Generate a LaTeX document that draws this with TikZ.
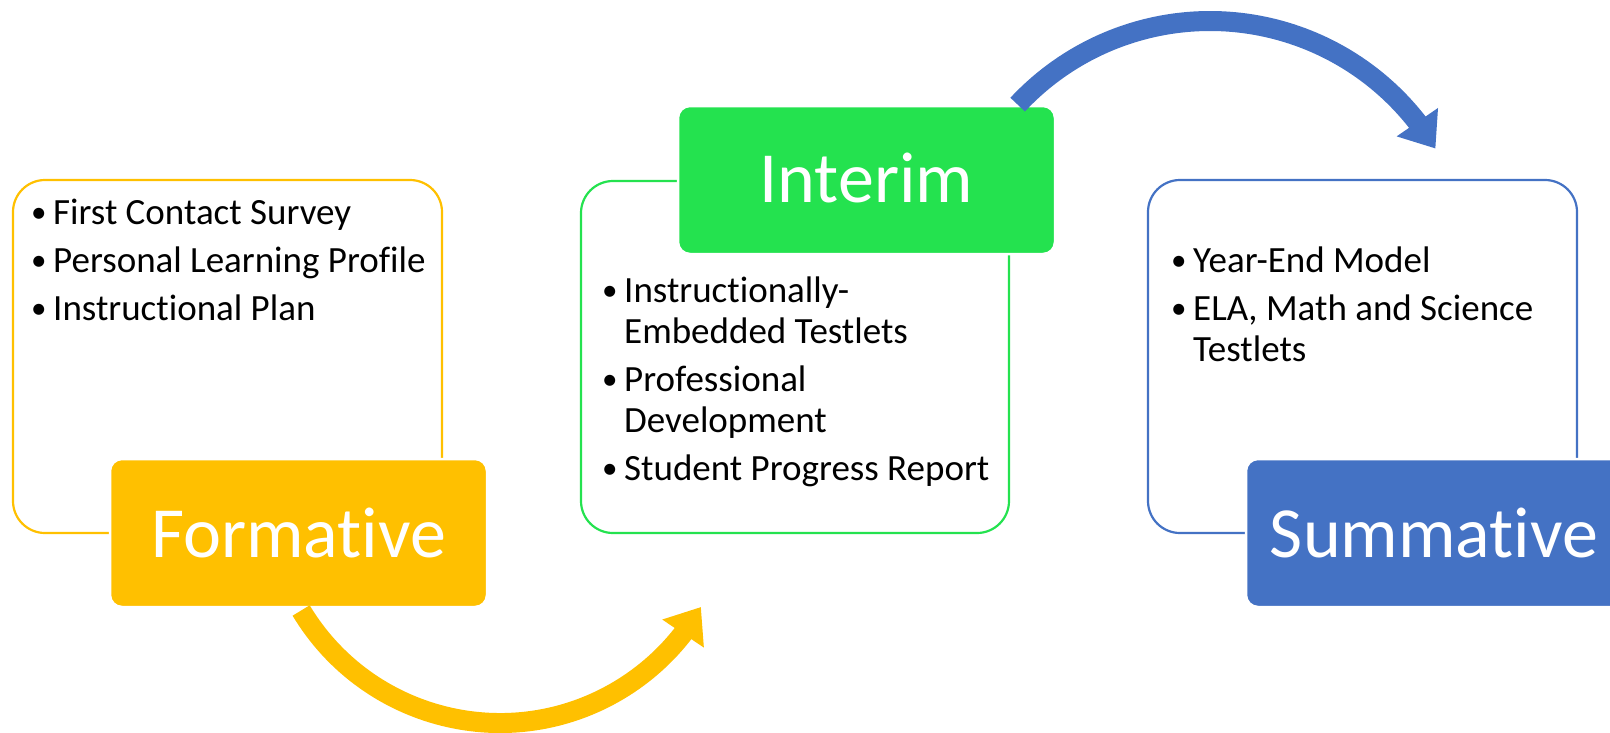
\documentclass[tikz,border=0pt]{standalone}
\usepackage{fontspec}
\setmainfont{Carlito}[RawFeature={-liga,-clig,-dlig,-calt}]
\usetikzlibrary{arrows.meta,bending,calc}
\definecolor{fyellow}{HTML}{FFC000}
\definecolor{igreen}{HTML}{24E24F}
\definecolor{sblue}{HTML}{4472C4}
\newcommand{\bul}{\makebox[21pt][l]{\hspace{-1pt}\raisebox{1.5pt}{\fontsize{31}{31}\selectfont •}}}
\newcommand{\cont}{\hspace*{21pt}}
\newcommand{\fstrut}{\rule{0pt}{30pt}}
\begin{document}
\begin{tikzpicture}[x=1pt,y=1pt,
  outline/.style={draw=#1, line width=2.2pt, rounded corners=32pt, fill=white,
    inner sep=0pt, outer sep=0pt, anchor=north west},
  labelbox/.style={fill=#1, draw=white, line width=2.5pt, rounded corners=12pt,
    inner sep=0pt, outer sep=0pt, anchor=north west, minimum width=377pt, minimum height=148pt},
  labeltext/.style={text=white, font=\fontsize{72}{86}\selectfont, inner sep=0pt},
  items/.style={anchor=north west, inner sep=0pt, align=left, font=\fontsize{37}{41}\selectfont},
  bigarrow/.style={draw=#1, line width=20pt, line cap=butt, -{Triangle[width=48pt,length=32pt]}}
]
\useasboundingbox (0,0) rectangle (1610,-732);

\coordinate (yc) at (500,-491);
\coordinate (ystart) at ($(yc)+(211:232)$);
\coordinate (bc) at (1210,-284);
\coordinate (bstart) at ($(bc)+(137:263)$);

% outline boxes
\node[outline=fyellow, minimum width=429pt, minimum height=353pt] (fbox) at (13,-180) {};
\node[outline=igreen, minimum width=428pt, minimum height=352pt] (ibox) at (581,-181) {};
\node[outline=sblue, minimum width=429pt, minimum height=353pt] (sbox) at (1148,-180) {};

% labels
\node[labelbox=fyellow] (flab) at (110,-459) {};
\node[labelbox=igreen] (ilab) at (678,-106) {};
\node[labelbox=sblue] (slab) at (1246,-459) {};

\node[labeltext] (ftext) at (flab.center) {Formative};
\node[labeltext] (itext) at ([yshift=2pt]ilab.center) {Interim};
\node[labeltext] (stext) at (1434,-533) {Summative};

% arrows
\draw[bigarrow=fyellow] (ystart) arc[start angle=211, end angle=330, radius=232];
\draw[bigarrow=sblue] (bstart) arc[start angle=137, end angle=31, radius=263];

% item lists
\node[items] (flist) at (32,-194) {\fstrut\bul First Contact Survey\\[7pt]
\bul Personal Learning Profile\\[7pt]
\bul Instructional Plan};
\node[items] (ilist) at (603,-272) {\fstrut\bul Instructionally-\\
\cont Embedded Testlets\\[7pt]
\bul Professional\\
\cont Development\\[7pt]
\bul Student Progress Report};
\node[items] (slist) at (1172,-242) {\fstrut\bul Year-End Model\\[7pt]
\bul ELA, Math and Science\\
\cont Testlets};
\end{tikzpicture}
\end{document}
